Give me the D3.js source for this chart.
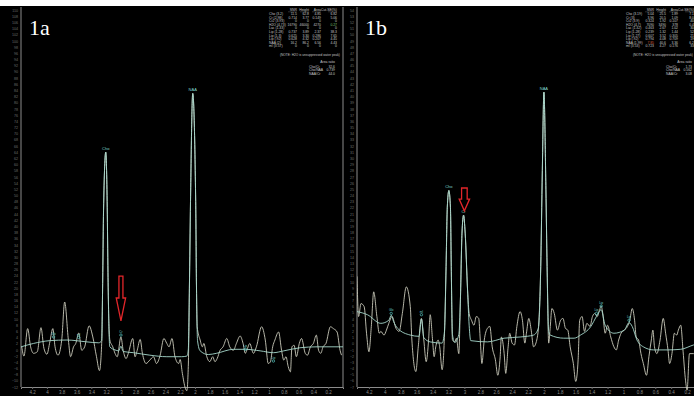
<!DOCTYPE html>
<html>
<head>
<meta charset="utf-8">
<script src="https://cdn.jsdelivr.net/npm/d3@7"></script>
<style>
  html, body { margin: 0; padding: 0; background: #fff; }
  svg { display: block; }
</style>
</head>
<body>
<div id="chart"></div>
<script>
// ---- data (ppm, signal) ----
const ppmTicks = [4.2, 4, 3.8, 3.6, 3.4, 3.2, 3, 2.8, 2.6, 2.4, 2.2, 2, 1.8, 1.6, 1.4, 1.2, 1, 0.8, 0.6, 0.4, 0.2];

// panel 1a, raw spectrum
const rawA = [
  [4.34,1.0],[4.31,-2.0],[4.26,6.9],[4.22,1.0],[4.18,-1.1],[4.13,-0.6],[4.08,7.2],[4.04,0.5],[4.00,-1.4],[3.96,2.6],
  [3.92,6.9],[3.89,1.0],[3.85,-1.7],[3.80,3.2],[3.76,15.5],[3.71,3.2],[3.68,-2.2],[3.64,1.0],[3.61,2.1],[3.57,5.5],
  [3.53,-0.1],[3.49,1.0],[3.43,7.8],[3.38,4.2],[3.33,-2.2],[3.29,-6.7],[3.26,2.1],[3.245,25],[3.235,45],[3.205,64],
  [3.185,46],[3.175,25],[3.16,7],[3.15,3.2],[3.11,1.0],[3.08,-1.1],[3.05,-2.2],[3.00,4.2],[2.97,-0.1],[2.93,-2.8],
  [2.90,-1.1],[2.84,3.7],[2.81,-2.2],[2.78,-0.1],[2.74,3.4],[2.71,-1.1],[2.66,-4.4],[2.61,-3.3],[2.56,-2.2],[2.52,-4.4],
  [2.47,-1.7],[2.42,3.7],[2.38,2.1],[2.35,1.0],[2.31,3.7],[2.27,-2.2],[2.22,-4.4],[2.20,-3.1],[2.17,-7.6],[2.13,-12.4],
  [2.11,-13.2],[2.09,-5.4],[2.075,20],[2.06,48],[2.03,83],[1.99,48],[1.98,22],[1.97,7.5],[1.93,3.2],[1.90,1.0],
  [1.88,2.1],[1.84,-2.2],[1.80,-3.8],[1.76,-2.2],[1.73,-3.8],[1.70,-2.8],[1.66,-0.1],[1.62,1.0],[1.57,3.7],[1.53,1.0],
  [1.48,-0.1],[1.44,2.1],[1.39,4.5],[1.35,2.1],[1.32,-1.1],[1.29,0.5],[1.26,2.1],[1.21,-1.1],[1.17,1.0],[1.10,7.5],
  [1.05,3.2],[1.01,-4.4],[0.98,-3.8],[0.95,1.0],[0.92,3.2],[0.87,5.8],[0.83,-0.1],[0.80,-3.3],[0.77,-2.2],[0.74,-5.4],
  [0.71,-7.1],[0.69,1.0],[0.66,1.5],[0.63,-2.2],[0.59,2.1],[0.56,3.7],[0.51,-1.1],[0.48,-1.7],[0.44,1.0],[0.40,2.1],
  [0.36,4.8],[0.33,-0.1],[0.30,-1.1],[0.27,1.0],[0.23,2.1],[0.17,7.5],[0.13,6.9],[0.08,5.8],[0.04,-0.1],[0.02,-1.7]
];

// panel 1a, fitted curve (baseline + peaks)
const fitA = [
  [4.35,1.0],[4.18,2.1],[3.96,3.0],[3.73,3.2],[3.46,2.6],[3.30,2.3],[3.26,3],[3.245,25],[3.235,45],[3.205,64],
  [3.185,46],[3.175,25],[3.16,5],[3.15,1.0],[3.08,0],[3.03,-0.3],[3.00,1.2],[2.97,-0.5],[2.83,-0.9],[2.61,-1.7],
  [2.38,-2.2],[2.18,-2.2],[2.11,-2.0],[2.09,0],[2.075,20],[2.06,48],[2.03,83],[1.99,48],[1.98,22],[1.965,3],
  [1.93,-0.3],[1.82,-1.5],[1.71,-1.1],[1.48,0.2],[1.32,0.2],[1.12,-0.3],[0.94,-0.9],[0.80,-0.3],[0.58,0.7],[0.35,1.0],
  [0.0,1.0]
];

const markersA = [[3.91,4.2,"Glx"],[3.57,4.0,"mI"],[3.00,4.8,"Cr"],[1.32,0.2,"Lip"],[0.94,-3.6,"Lip"]];
const peakLabelsA = [[3.205,64,"Cho"],[2.03,83,"NAA"]];

// panel 1b, raw spectrum
const rawB = [
  [4.35,10.9],[4.33,4.4],[4.30,6.5],[4.26,6.0],[4.23,1.7],[4.20,-1.3],[4.17,2.8],[4.14,8.4],[4.10,4.4],[4.07,1.7],
  [4.05,2.0],[4.01,1.4],[3.98,2.2],[3.95,3.3],[3.91,4.4],[3.86,2.5],[3.82,2.0],[3.78,4.9],[3.73,9.2],[3.68,6.0],
  [3.66,0.6],[3.61,-4.5],[3.58,-0.5],[3.54,4.1],[3.51,0.6],[3.48,-2.9],[3.45,0.6],[3.43,4.7],[3.40,0.6],[3.38,-2.1],
  [3.36,-0.5],[3.33,0.6],[3.31,-0.5],[3.28,-4.2],[3.25,1.7],[3.23,12.5],[3.215,22],[3.195,24.8],[3.175,22],[3.165,12.5],
  [3.15,0.6],[3.12,0.3],[3.10,0.9],[3.07,-1.6],[3.05,7.1],[3.03,17.9],[3.01,20.8],[2.99,17.9],[2.96,8.7],[2.94,4.9],
  [2.91,3.8],[2.88,3.0],[2.85,4.4],[2.82,4.1],[2.80,0.6],[2.78,-3.2],[2.75,0.6],[2.71,2.5],[2.68,2.8],[2.65,-0.5],
  [2.61,-2.6],[2.58,-5.1],[2.55,-2.1],[2.535,1.1],[2.50,-1.6],[2.48,-4.8],[2.45,-0.5],[2.43,1.7],[2.40,0.1],[2.37,-0.2],
  [2.34,2.8],[2.30,5.2],[2.27,3.8],[2.24,0.1],[2.22,1.7],[2.19,4.1],[2.16,2.2],[2.13,-0.5],[2.09,0.6],[2.06,4.4],
  [2.04,12.5],[2.02,28],[2.00,40.7],[1.975,25],[1.96,12.5],[1.94,0.1],[1.92,2.8],[1.90,5.7],[1.87,4.9],[1.83,2.2],
  [1.79,3.8],[1.76,4.1],[1.73,2.5],[1.70,2.2],[1.67,-0.5],[1.63,-3.2],[1.60,-6.1],[1.57,-2.6],[1.55,3.8],[1.52,4.4],
  [1.49,2.0],[1.46,3.3],[1.42,2.8],[1.39,4.4],[1.36,4.9],[1.33,4.4],[1.30,5.5],[1.28,6.1],[1.26,4.9],[1.23,1.7],
  [1.20,3.0],[1.16,1.1],[1.12,-0.5],[1.09,-1.0],[1.06,0.6],[1.03,1.7],[0.99,2.2],[0.95,2.8],[0.92,3.8],[0.89,5.7],
  [0.86,3.8],[0.84,1.1],[0.81,0.6],[0.78,-1.6],[0.75,-3.2],[0.71,-5.1],[0.68,-2.1],[0.65,0.6],[0.63,2.2],[0.61,-0.5],
  [0.58,-1.6],[0.54,0.6],[0.50,4.1],[0.47,1.7],[0.44,-1.0],[0.42,-3.2],[0.39,-1.6],[0.36,1.7],[0.33,1.4],[0.31,2.2],
  [0.28,3.0],[0.25,-1.3],[0.22,-5.9],[0.20,-7.5],[0.17,-1.6],[0.12,-1.6],[0.06,-0.5]
];

// panel 1b, fitted curve
const fitB = [
  [4.35,5.2],[4.22,4.7],[4.05,3.3],[3.95,3.8],[3.92,4.6],[3.89,3.6],[3.84,2.5],[3.68,1.4],[3.57,1.2],[3.54,4.0],
  [3.51,1.0],[3.43,0.3],[3.28,0.1],[3.25,2],[3.23,12.5],[3.215,22],[3.195,24.8],[3.175,22],[3.165,12.5],[3.15,1.5],
  [3.12,0.2],[3.07,1.5],[3.05,7.1],[3.03,17.9],[3.01,20.8],[2.99,17.9],[2.96,8.7],[2.94,3],[2.92,0.5],[2.71,0.3],
  [2.50,0.9],[2.29,1.1],[2.13,1.4],[2.07,2.5],[2.04,12.5],[2.02,28],[2.00,40.7],[1.975,25],[1.96,12.5],[1.94,2],
  [1.92,1.4],[1.75,0.9],[1.62,0.9],[1.54,1.4],[1.41,2.8],[1.34,4.4],[1.28,5.5],[1.23,3.0],[1.12,1.7],[0.99,2.2],
  [0.93,3.4],[0.89,2.8],[0.83,0.6],[0.75,-0.5],[0.62,-1.0],[0.45,-1.0],[0.28,-0.9],[0.12,-0.2],[0.0,0.2]
];

const markersB = [[3.92,4.9,"Glx"],[3.54,4.7,"mI"],[1.34,4.9,"Lip"],[1.28,6.1,"Lip"],[0.93,3.8,"Lip"]];
const peakLabelsB = [[3.195,24.8,"Cho"],[3.01,20.8,"Cr"],[2.00,40.7,"NAA"]];

// arrows: [ppm, top, shaft end, tip]
const arrowA = [3.0, 23.9, 16.8, 9.4];
const arrowB = [3.0, 25.2, 23.4, 21.5];

// quantitation tables
const tableHead = ["", "SNR", "Height", "Area", "Cut.SE(%)"];
const tableA = [
  ["Cho (3.2)", "11.5", "62.8", "4.85", "6.82"],
  ["Cr (2.98)", "0.714", "3.77", "0.149", "5.06"],
  ["Cr2 (3.93)", "0", "0", "0", "0"],
  ["H2O (4.73)", "16790", "46000", "4270", "0.27"],
  ["Lac (1.33)", "0", "0", "0", "0"],
  ["Lip (1.28)", "0.737", "3.89", "2.37", "38.3"],
  ["Lip (1.3)", "0.625", "3.30", "0.286", "7.65"],
  ["Lip (.92)", "0.628", "4.32", "0.207", "4.45"],
  ["NAA (2)", "16.2", "86.2", "6.56", "4.43"],
  ["mI (3.57)", "0", "0", "0", "0"]
];
const tableB = [
  ["Cho (3.19)", "5.04", "25.5", "1.89", "7.1"],
  ["Cr (3)", "3.96", "20.5", "1.09", "8.0"],
  ["Cr2 (3.9)", "0.324", "1.92", "0.107", "40"],
  ["H2O (4.7)", "7090", "3490", "378", "0.4"],
  ["Lac (1.32)", "0.463", "2.67", "1.02", "30"],
  ["Lip (1.28)", "0.239", "1.32", "1.44", "52"],
  ["Lip (1.27)", "0.607", "3.52", "0.305", "21"],
  ["Lip (.92)", "0.794", "4.08", "0.709", "19"],
  ["NAA (1.99)", "7.85", "40.6", "3.36", "6.2"],
  ["mI (3.53)", "0.723", "4.27", "0.176", "33"]
];
const ratioNames = ["Cho/Cr", "Cho/NAA", "NAA/Cr"];
const ratioA = ["32.6", "0.739", "44.0"];
const ratioB = ["1.73", "0.562", "3.08"];
const noteText = "(NOTE: H2O is unsuppressed water peak)";

// ---- drawing ----
const W = 694, H = 396;
const svg = d3.select("#chart").append("svg")
  .attr("width", W).attr("height", H)
  .style("font-family", "'Liberation Sans', Arial, sans-serif");

svg.append("rect").attr("width", W).attr("height", H).attr("fill", "#000");
svg.append("rect").attr("width", W).attr("height", 6).attr("fill", "#fff");

const panels = [
  { id: "a", name: "1a", x0: 21, x1: 343, yDomain: [-12, 110], yStep: 2, raw: rawA, fit: fitA,
    markers: markersA, peaks: peakLabelsA, arrow: arrowA, arrowHalf: [2, 4.7], table: tableA, ratios: ratioA,
    tableX: 269, noteX: 280 },
  { id: "b", name: "1b", x0: 357, x1: 703, yDomain: [-7, 54], yStep: 1, raw: rawB, fit: fitB,
    markers: markersB, peaks: peakLabelsB, arrow: arrowB, arrowHalf: [2.8, 5.2], table: tableB, ratios: ratioB,
    tableX: 626, noteX: 633 }
];

const yTop = 10, yBottom = 387;

panels.forEach(p => {
  const x = d3.scaleLinear().domain([4.35, 0]).range([p.x0, p.x1]);
  const y = d3.scaleLinear().domain(p.yDomain).range([yBottom, yTop]);
  const g = svg.append("g");

  g.append("clipPath").attr("id", "clip-" + p.id)
    .append("rect").attr("x", p.x0).attr("y", 7).attr("width", p.x1 - p.x0).attr("height", 386);

  // y axis
  const yAxis = d3.axisLeft(y)
    .tickValues(d3.range(p.yDomain[0], p.yDomain[1] + 0.001, p.yStep))
    .tickSize(0).tickPadding(3);
  const ya = g.append("g").attr("transform", `translate(${p.x0},0)`).call(yAxis);
  ya.select(".domain").remove();
  ya.selectAll("text").attr("fill", "#6e6e6e").style("font-size", "3.6px");
  g.append("line").attr("x1", p.x0).attr("x2", p.x0).attr("y1", 7).attr("y2", yBottom)
    .attr("stroke", "#8c8c8c").attr("stroke-width", 1);

  // x axis
  const xAxis = d3.axisBottom(x).tickValues(ppmTicks).tickSize(2).tickPadding(2)
    .tickFormat(d => String(+d.toFixed(1)));
  const xa = g.append("g").attr("transform", `translate(0,${yBottom})`).call(xAxis);
  xa.select(".domain").attr("stroke", "#8c8c8c");
  xa.selectAll(".tick line").attr("stroke", "#6a6a6a");
  xa.selectAll("text").attr("fill", "#8a8a8a").style("font-size", "4.5px");

  if (p.id === "a") {
    g.append("line").attr("x1", p.x1).attr("x2", p.x1).attr("y1", 7).attr("y2", yBottom)
      .attr("stroke", "#8c8c8c").attr("stroke-width", 1);
  }

  const line = d3.line().x(d => x(d[0])).y(d => y(d[1])).curve(d3.curveMonotoneX);
  const plot = g.append("g").attr("clip-path", `url(#clip-${p.id})`);

  plot.append("path").datum(p.raw).attr("d", line)
    .attr("fill", "none").attr("stroke", "#cbcbbb").attr("stroke-width", 0.9);
  plot.append("path").datum(p.fit).attr("d", line)
    .attr("fill", "none").attr("stroke", "#a6d8cc").attr("stroke-width", 0.9);

  // fitted component markers
  plot.selectAll(".mk").data(p.markers).enter().append("circle")
    .attr("cx", d => x(d[0])).attr("cy", d => y(d[1])).attr("r", 1.2)
    .attr("fill", "none").attr("stroke", "#56c6c0").attr("stroke-width", 0.7);
  plot.selectAll(".mkl").data(p.markers).enter().append("text")
    .attr("x", d => x(d[0])).attr("y", d => y(d[1]) - 2)
    .attr("text-anchor", "middle").attr("fill", "#6fd0c8").style("font-size", "3px")
    .text(d => d[2]);
  plot.selectAll(".pk").data(p.peaks).enter().append("text")
    .attr("x", d => x(d[0])).attr("y", d => y(d[1]) - 2)
    .attr("text-anchor", "middle").attr("fill", "#7fd6cc").style("font-size", "4px")
    .text(d => d[2]);

  // red arrow
  const [ap, aTop, aShaft, aTip] = p.arrow;
  const ax = x(ap), hs = p.arrowHalf[0], hh = p.arrowHalf[1];
  const pts = [
    [ax - hs, y(aTop)], [ax + hs, y(aTop)], [ax + hs, y(aShaft)], [ax + hh, y(aShaft)],
    [ax, y(aTip)], [ax - hh, y(aShaft)], [ax - hs, y(aShaft)]
  ];
  g.append("polygon").attr("points", pts.map(q => q.join(",")).join(" "))
    .attr("fill", "none").attr("stroke", "#e2262a").attr("stroke-width", 1.3);

  // panel label
  g.append("text").attr("x", p.x0 + 8).attr("y", 35)
    .attr("fill", "#fff").style("font-family", "'Liberation Serif', 'DejaVu Serif', serif")
    .style("font-size", "22px").text(p.name);

  // table
  const tx = p.tableX;
  const cols = [0, 24, 36, 48, 64];
  const tg = g.append("g").style("font-size", "3.4px").attr("fill", "#c4c4c4");
  tableHead.forEach((h, i) => {
    if (!h) return;
    tg.append("text").attr("x", tx + cols[i] + 4).attr("y", 11).attr("text-anchor", "end").text(h);
    tg.append("line").attr("x1", tx + cols[i] - 5).attr("x2", tx + cols[i] + 4)
      .attr("y1", 11.8).attr("y2", 11.8).attr("stroke", "#9a9a9a").attr("stroke-width", 0.3);
  });
  p.table.forEach((row, r) => {
    row.forEach((v, i) => {
      tg.append("text")
        .attr("x", i === 0 ? tx : tx + cols[i] + 4)
        .attr("y", 15 + r * 3.6)
        .attr("text-anchor", i === 0 ? "start" : "end")
        .attr("fill", (p.id === "b" && r === 8 && i === 1) ? "#d05a3a" : (p.id === "a" && r === 3 && i === 4) ? "#7cc070" : "#c4c4c4")
        .text(v);
    });
  });
  tg.append("text").attr("x", p.noteX).attr("y", 55.5).style("font-size", "3.2px").text(noteText);
  tg.append("text").attr("x", tx + 66).attr("y", 63).attr("text-anchor", "end").text("Area ratio");
  ratioNames.forEach((n, i) => {
    tg.append("text").attr("x", tx + 40).attr("y", 67.5 + i * 3.8).text(n);
    tg.append("text").attr("x", tx + 66).attr("y", 67.5 + i * 3.8).attr("text-anchor", "end").text(p.ratios[i]);
  });
});
</script>
</body>
</html>
